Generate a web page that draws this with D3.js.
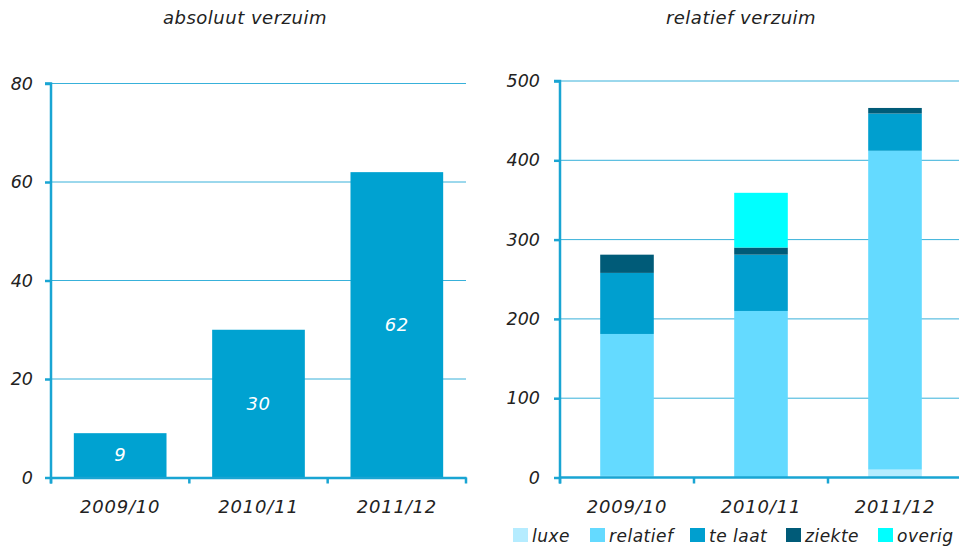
<!DOCTYPE html>
<html>
<head>
<meta charset="utf-8">
<script src="https://cdn.jsdelivr.net/npm/d3@7"></script>
<style>
  body { margin: 0; background: #fff; }
  text { font-family: "DejaVu Sans", Verdana, sans-serif; font-style: italic; fill: #222; }
</style>
</head>
<body>
<div id="chart"></div>
<script>
"use strict";

const years = ["2009/10", "2010/11", "2011/12"];
const absoluut = [9, 30, 62];
const absTicks = [0, 20, 40, 60, 80];

const series = ["luxe", "relatief", "te laat", "ziekte", "overig"];
const luxe = [2, 0, 10];
const relatief = [179, 210, 402];
const teLaat = [77, 71, 47];
const ziekte = [23, 9, 7];
const overig = [0, 69, 0];
const relTicks = [0, 100, 200, 300, 400, 500];

const colors = ["#b5ecff", "#64daff", "#009fcf", "#005b78", "#00ffff"],
    axisColor = "#19a5d3",
    gridColor = "#38b1da",
    barColor = "#00a2d1";

const W = 959, H = 547;
const svg = d3.select("#chart").append("svg")
    .attr("width", W).attr("height", H);

const y0 = 477.5;

function styleAxes(ya, xa) {
    [ya, xa].forEach(a => {
        a.selectAll("path.domain").attr("stroke", axisColor).attr("stroke-width", 2.5);
        a.selectAll("line").attr("stroke", axisColor).attr("stroke-width", 2.5);
        a.selectAll("text").attr("font-family", null).style("font-size", "17.5px");
    });
    xa.selectAll("text").style("font-size", "18px").style("letter-spacing", "0.8px");
}

/***** left: absoluut verzuim *****/
{
    const x = d3.scaleBand().domain(years).range([51, 466]).paddingInner(0.33).paddingOuter(0.165);
    const y = d3.scaleLinear().domain([0, 80]).range([y0, 83.5]);
    const g = svg.append("g");

    g.selectAll("line.grid").data(absTicks.filter(d => d > 0)).enter()
    .append("line").attr("class", "grid")
    .attr("x1", 51).attr("x2", 466)
    .attr("y1", d => y(d)).attr("y2", d => y(d))
    .attr("stroke", gridColor).attr("stroke-width", 1);

    g.selectAll("rect").data(absoluut).enter().append("rect")
    .attr("x", (d, i) => x(years[i]))
    .attr("width", x.bandwidth())
    .attr("y", d => y(d))
    .attr("height", d => y0 - y(d))
    .attr("fill", barColor);

    g.selectAll("text.val").data(absoluut).enter().append("text")
    .attr("class", "val")
    .attr("x", (d, i) => x(years[i]) + x.bandwidth() / 2)
    .attr("y", d => (y(d) + y0) / 2 + 6)
    .attr("text-anchor", "middle")
    .style("fill", "#fff").style("font-size", "18px").style("letter-spacing", "0.6px")
    .text(d => d);

    const ya = g.append("g").attr("transform", "translate(51,0)")
    .call(d3.axisLeft(y).tickValues(absTicks).tickSize(6).tickPadding(12));
    const xa = g.append("g").attr("transform", `translate(0,${y0})`)
    .call(d3.axisBottom(x).tickSize(0).tickPadding(23));
    styleAxes(ya, xa);
    ya.select("path.domain").attr("d", `M-6,${y(80)}H0V${y0 + 6}`);

    // category boundary ticks
    const bounds = [51, 51 + (466 - 51) / 3, 51 + 2 * (466 - 51) / 3, 466];
    g.selectAll("line.bt").data(bounds).enter().append("line")
    .attr("x1", d => d).attr("x2", d => d)
    .attr("y1", y0).attr("y2", y0 + 6)
    .attr("stroke", axisColor).attr("stroke-width", 2.5);

    g.append("text").attr("x", 245).attr("y", 24)
    .attr("text-anchor", "middle").style("font-size", "18px").style("letter-spacing", "0.5px")
    .text("absoluut verzuim");
}

/***** right: relatief verzuim *****/
{
    const x = d3.scaleBand().domain(years).range([560, 962]).paddingInner(0.6).paddingOuter(0.3);
    const y = d3.scaleLinear().domain([0, 500]).range([y0, 81]);
    const g = svg.append("g");

    const table = years.map((yr, i) => ({
        year: yr, "luxe": luxe[i], "relatief": relatief[i], "te laat": teLaat[i],
        "ziekte": ziekte[i], "overig": overig[i]
    }));
    const stacked = d3.stack().keys(series)(table);

    g.selectAll("line.grid").data(relTicks.filter(d => d > 0)).enter()
    .append("line").attr("class", "grid")
    .attr("x1", 560).attr("x2", W)
    .attr("y1", d => y(d)).attr("y2", d => y(d))
    .attr("stroke", gridColor).attr("stroke-width", 1);

    g.selectAll("g.layer").data(stacked).enter().append("g")
    .attr("class", "layer")
    .attr("fill", (d, i) => colors[i])
    .selectAll("rect").data(d => d).enter().append("rect")
    .attr("x", d => x(d.data.year))
    .attr("width", x.bandwidth())
    .attr("y", d => y(d[1]))
    .attr("height", d => y(d[0]) - y(d[1]));

    const ya = g.append("g").attr("transform", "translate(560,0)")
    .call(d3.axisLeft(y).tickValues(relTicks).tickSize(6).tickPadding(14));
    const xa = g.append("g").attr("transform", `translate(0,${y0})`)
    .call(d3.axisBottom(x).tickSize(0).tickPadding(23));
    styleAxes(ya, xa);
    ya.select("path.domain").attr("d", `M-6,${y(500)}H0V${y0 + 6}`);
    xa.select("path.domain").attr("d", `M560,0H${W}`);

    const bounds = [560, 560 + 134, 560 + 268];
    g.selectAll("line.bt").data(bounds).enter().append("line")
    .attr("x1", d => d).attr("x2", d => d)
    .attr("y1", y0).attr("y2", y0 + 6)
    .attr("stroke", axisColor).attr("stroke-width", 2.5);

    g.append("text").attr("x", 741).attr("y", 24)
    .attr("text-anchor", "middle").style("font-size", "18px").style("letter-spacing", "0.5px")
    .text("relatief verzuim");

    // legend
    const legX = [513, 590, 690, 786, 878];
    const leg = g.selectAll("g.leg").data(series).enter().append("g")
    .attr("class", "leg")
    .attr("transform", (d, i) => `translate(${legX[i]}, 528)`);
    leg.append("rect").attr("width", 15).attr("height", 14)
    .attr("fill", (d, i) => colors[i]);
    leg.append("text").attr("x", 19).attr("y", 13.5)
    .style("font-size", "17px").style("letter-spacing", "0.5px").text(d => d);
}
</script>
</body>
</html>
